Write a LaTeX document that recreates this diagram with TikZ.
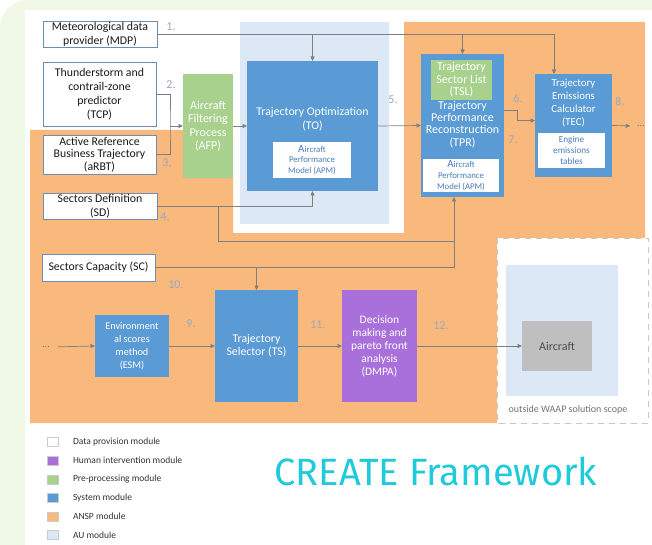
\documentclass[tikz,border=0pt]{standalone}
\usepackage{fontspec}
\setmainfont{Carlito}
\newfontfamily\headfont{Fira Sans}
\usetikzlibrary{arrows.meta,calc}
\definecolor{sysblue}{HTML}{5B9BD5}
\definecolor{prepgreen}{HTML}{A9D18E}
\definecolor{humpurple}{HTML}{A970DC}
\definecolor{ansporange}{HTML}{F9B97C}
\definecolor{aublue}{HTML}{DCE8F5}
\definecolor{framegreen}{HTML}{EEF8E5}
\definecolor{databorder}{HTML}{6F8DAF}
\definecolor{linkgray}{HTML}{7F7F7F}
\definecolor{steplabel}{HTML}{97A7C3}
\definecolor{apmblue}{HTML}{4A7CC0}
\definecolor{aircraftgray}{HTML}{BFBFBF}
\definecolor{titlecyan}{HTML}{1FCBDA}
\def\dflow{\draw[link,-{Triangle[length=4.5pt,width=4pt]}]}
\def\dlink{\draw[link]}
\def\apmtext{{\fontsize{11}{9}\selectfont A}ircraft\\Performance\\Model (APM)}

\begin{document}
\begin{tikzpicture}[x=1pt,y=-1pt,
  every node/.style={inner sep=0pt,outer sep=0pt,align=center},
  link/.style={linkgray,line width=0.7pt},
  boxsize/.style 2 args={minimum width=#1pt,minimum height=#2pt},
  databox/.style={draw=databorder,line width=0.8pt,fill=white,text=black!90,font=\fontsize{11.8}{14}\selectfont},
  sysbox/.style={fill=sysblue,text=white,font=\fontsize{11.8}{13}\selectfont},
  prepbox/.style={fill=prepgreen,text=white,font=\fontsize{12}{13.5}\selectfont},
  humbox/.style={fill=humpurple,text=white,font=\fontsize{11.5}{13}\selectfont},
  innerbox/.style={fill=white,text=apmblue,font=\fontsize{8.8}{10.8}\selectfont},
  steplbl/.style={text=steplabel,font=\fontsize{12}{12}\selectfont},
  legkey/.style={draw=black!20,line width=0.4pt,minimum width=11pt,minimum height=9pt},
  legtext/.style={anchor=west,text=black!80,font=\fontsize{9.5}{9.5}\selectfont}]

% page, ANSP and AU areas
\useasboundingbox (0,0) rectangle (652,545);
\fill[framegreen,rounded corners=28pt] (0,0) rectangle (720,600);
\fill[white] (25,10) rectangle (652,545);
\fill[ansporange] (30,130) -- (233,130) -- (233,233) -- (404,233) -- (404,22)
  -- (645,22) -- (645,423) -- (30,423) -- cycle;
\fill[aublue] (240,22) rectangle (389,224);
\draw[black!22,fill=white,dash pattern=on 6pt off 5pt,line width=0.8pt] (497,238) rectangle (648,423);
\fill[aublue] (506,265) rectangle (618,396);
\node[text=black!55,font=\fontsize{10}{10}\selectfont] (scope-note) at (568,410) {outside WAAP solution scope};

% data provision
\node[databox,boxsize={114}{26}] (mdp) at (100,34) {Meteorological data\\provider (MDP)};
\node[databox,boxsize={113}{64}] (tcp) at (99.5,94) {Thunderstorm and\\contrail-zone\\predictor\\(TCP)};
\node[databox,boxsize={113}{39},font=\fontsize{11.8}{12.5}\selectfont] (arbt) at (99.5,154.5) {Active Reference\\Business Trajectory\\(aRBT)};
\node[databox,boxsize={114}{26}] (sd) at (100,206) {Sectors Definition\\(SD)};
\node[databox,boxsize={113}{27}] (sc) at (98.5,267.5) {Sectors Capacity (SC)};

% upper chain
\node[prepbox,boxsize={50}{104}] (afp) at (208,126) {Aircraft\\Filtering\\Process\\(AFP)};
\node[sysbox,boxsize={131}{130}] (to) at (312.5,126) {};
\node[sysbox,font=\fontsize{11.8}{14}\selectfont] (to-name) at (312.5,119) {Trajectory Optimization\\(TO)};
\node[innerbox,boxsize={78}{36}] (to-apm) at (312,160) {\apmtext};
\node[sysbox,boxsize={83}{143}] (tpr) at (462.5,125.5) {};
\node[prepbox,boxsize={61}{40},font=\fontsize{12}{12.5}\selectfont] (tsl) at (461.5,80) {Trajectory\\Sector List\\(TSL)};
\node[sysbox,font=\fontsize{12}{12.3}\selectfont] (tpr-name) at (462.5,124.5) {Trajectory\\Performance\\Reconstruction\\(TPR)};
\node[innerbox,boxsize={76}{33}] (tpr-apm) at (461,175.5) {\apmtext};
\node[sysbox,boxsize={77}{103}] (tec) at (573.5,125.5) {};
\node[sysbox,font=\fontsize{10.8}{13.3}\selectfont] (tec-name) at (573.5,103) {Trajectory\\Emissions\\Calculator\\(TEC)};
\node[innerbox,boxsize={67}{35},font=\fontsize{9.2}{11}\selectfont] (tec-tables) at (571.5,150.5) {Engine\\emissions\\tables};
\node[text=black!55,font=\fontsize{10}{10}\selectfont] (tec-next) at (641,126) {...};

% lower chain
\node[text=black!55,font=\fontsize{10}{10}\selectfont] (esm-feed) at (46,347) {...};
\node[sysbox,boxsize={74}{62},font=\fontsize{10.2}{13}\selectfont] (esm) at (132,346) {Environment\\al scores\\method\\(ESM)};
\node[sysbox,boxsize={83}{112}] (ts) at (256.5,346) {Trajectory\\Selector (TS)};
\node[humbox,boxsize={75}{112}] (dmpa) at (379.5,346) {Decision\\making and\\pareto front\\analysis\\(DMPA)};
\node[fill=aircraftgray,text=black!70,boxsize={70}{50},font=\fontsize{12}{13}\selectfont] (aircraft) at (557,346) {Aircraft};

% connectors
\coordinate (tec-in) at (554,74);
\coordinate (afp-join) at (170,126);
\coordinate (sd-split) at (218,206);
\coordinate (tpr-bus) at (454,241);
\coordinate (tpr-in) at (454,197);
\dflow (mdp.east) -| (tec-in);
\dflow (to.north |- mdp.east) -- (to.north);
\dflow (tpr.north |- mdp.east) -- (tpr.north);
\dlink (tcp.east) -| (afp-join) |- (arbt.east);
\dflow (afp-join) -- (afp.west);
\dflow (afp.east) -- (to.west);
\dflow (to.east) -- (tpr.west);
\dflow ($(tpr.east)+(0,-15)$) -- ++(13,0) |- ($(tec.west)+(0,-5)$);
\dflow[shorten >=7pt] (tec.east) -- (tec-next.west);
\dflow (sd.east) -| (to.south);
\dflow (sd-split) |- (tpr-bus) -- (tpr-in);
\dlink (sc.east) -| (tpr-bus);
\dflow (sc.east -| ts.north) -- (ts.north);
\dflow[shorten <=8pt] (esm-feed.east) -- (esm.west);
\dflow (esm.east) -- (ts.west);
\dflow (ts.east) -- (dmpa.west);
\dflow (dmpa.east) -- (aircraft.west);

% step numbers
\node[steplbl] (s1) at (171,27) {1.};
\node[steplbl] (s2) at (171,85) {2.};
\node[steplbl] (s3) at (167,163) {3,};
\node[steplbl] (s4) at (165,217) {4.};
\node[steplbl] (s5) at (393,100) {5.};
\node[steplbl] (s6) at (518,98) {6.};
\node[steplbl] (s7) at (513,140) {7.};
\node[steplbl] (s8) at (620,101) {8.};
\node[steplbl] (s9) at (191,324) {9.};
\node[steplbl] (s10) at (176,285) {10.};
\node[steplbl] (s11) at (318,325) {11.};
\node[steplbl] (s12) at (441,326) {12.};

% legend
\foreach \keycol/\keytxt [count=\i] in {white/Data provision module,
    humpurple/Human intervention module, prepgreen/Pre-processing module,
    sysblue/System module, ansporange/ANSP module, aublue/AU module}
{
  \node[legkey,fill=\keycol] (key\i) at (52.5,{442+18.6*(\i-1)}) {};
  \node[legtext] (leg\i) at ($(key\i.east)+(15,0)$) {\keytxt};
}
\node[text=titlecyan,font=\headfont\fontsize{38}{38}\selectfont] (framework) at (436,471) {CREATE Framework};
\end{tikzpicture}
\end{document}
